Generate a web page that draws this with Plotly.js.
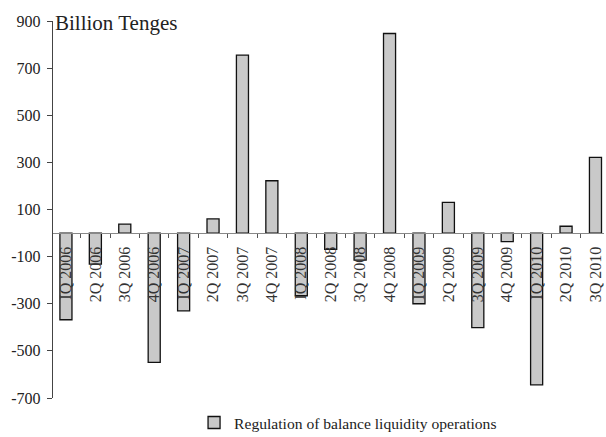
<!DOCTYPE html>
<html>
<head>
<meta charset="utf-8">
<script src="https://cdn.plot.ly/plotly-3.0.1.min.js"></script>
<style>html,body{margin:0;padding:0;background:#fff;}#chart{width:606px;height:437px;}</style>
</head>
<body>
<div id="chart"></div>
<script>
const categories = ["IQ 2006","2Q 2006","3Q 2006","4Q 2006","IQ 2007","2Q 2007","3Q 2007","4Q 2007",
  "IQ 2008","2Q 2008","3Q 2008","4Q 2008","IQ 2009","2Q 2009","3Q 2009","4Q 2009","IQ 2010","2Q 2010","3Q 2010"];
const values = [-368, -132, 38, -549, -330, 60, 755, 222, -266, -69, -115, 847, -300, 130, -401, -36, -644, 29, 321];
const seriesName = "Regulation of balance liquidity operations";
const yTicks = [-700, -500, -300, -100, 100, 300, 500, 700, 900];
const yRange = [-700, 900];

const font = "Liberation Serif, Times New Roman, serif";

const trace = {
  type: "bar",
  x: categories,
  y: values,
  name: seriesName,
  showlegend: true,
  width: 0.41,
  marker: {color: "#c9c9c9", line: {color: "#111", width: 1.3}}
};

const layout = {
  width: 606, height: 437,
  margin: {l: 53, r: 2, t: 21, b: 39, autoexpand: false},
  paper_bgcolor: "#fff", plot_bgcolor: "#fff",
  font: {family: font, color: "#222"},
  showlegend: true,
  legend: {
    orientation: "h", x: 0.256, xanchor: "left", y: -0.066, yanchor: "middle",
    font: {family: font, size: 15.6, color: "#222"},
    bgcolor: "rgba(0,0,0,0)"
  },
  xaxis: {
    type: "category",
    range: [-0.44, 18.29],
    anchor: "free",
    position: (0 - yRange[0]) / (yRange[1] - yRange[0]),
    showline: true, linecolor: "#888", linewidth: 1.3,
    ticks: "outside", ticklen: 4, tickcolor: "#555", tickson: "boundaries",
    tickangle: -90,
    ticklabelstandoff: 6,
    tickfont: {family: font, size: 16, color: "#333"},
    showgrid: false, zeroline: false,
    fixedrange: true
  },
  yaxis: {
    range: yRange,
    tickvals: yTicks,
    ticktext: yTicks.map(String),
    showline: true, linecolor: "#444", linewidth: 1.3,
    ticks: "outside", ticklen: 5, tickcolor: "#444",
    ticklabelstandoff: 3,
    tickfont: {family: font, size: 16, color: "#222"},
    showgrid: false, zeroline: false
  },
  annotations: [{
    text: "Billion Tenges", xref: "paper", yref: "paper",
    x: 0.0, y: 0.995, xanchor: "left", yanchor: "middle",
    showarrow: false, font: {family: font, size: 21, color: "#222"}
  }]
};

Plotly.newPlot("chart", [trace], layout, {displayModeBar: false, staticPlot: true});
</script>
</body>
</html>
